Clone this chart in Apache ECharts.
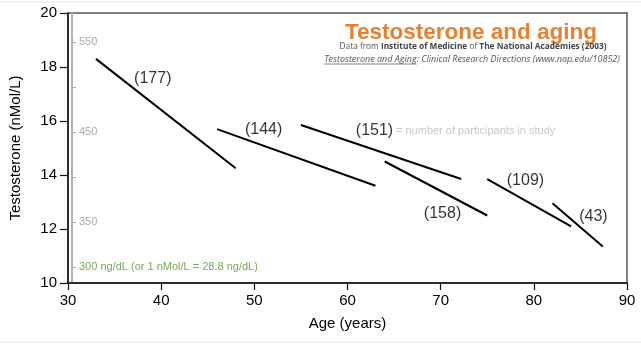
<!DOCTYPE html>
<html><head><meta charset="utf-8">
<script src="https://cdn.jsdelivr.net/npm/echarts@6/dist/echarts.min.js"></script>
<style>html,body{margin:0;padding:0;background:#fff}#c{width:641px;height:352px}</style>
</head><body><div id="c"></div>
<script>
// Age (years) and testosterone (nMol/L) at each segment's two ends
const segAgeStart = [33, 46, 55, 64, 75, 82];
const segTStart   = [18.3, 15.7, 15.85, 14.5, 13.85, 12.95];
const segAgeEnd   = [48, 63, 72.2, 75, 84, 87.4];
const segTEnd     = [14.25, 13.6, 13.85, 12.5, 12.1, 11.35];
// Participants per study and where its label sits
const counts   = [177, 144, 151, 158, 109, 43];
const labelAge = [39.1, 51.0, 62.9, 70.2, 79.1, 86.4];
const labelT   = [17.58, 15.69, 15.63, 12.58, 13.78, 12.46];
// Axis ticks
const xTicks = [30, 40, 50, 60, 70, 80, 90];
const yTicks = [10, 12, 14, 16, 18, 20];
const ngTicks = [300, 350, 400, 450, 500, 550];
const ngLabels = [300, 350, 450, 550];

const FONT = 'Liberation Sans, Arial, sans-serif';
const series = segAgeStart.map((a, i) => ({
  type: 'line', xAxisIndex: 0, yAxisIndex: 0, symbol: 'none', silent: true,
  lineStyle: { color: '#000', width: 2 },
  data: [[a, segTStart[i]], [segAgeEnd[i], segTEnd[i]]]
}));
series.push({
  type: 'scatter', symbolSize: 0, silent: true,
  data: counts.map((c, i) => [labelAge[i], labelT[i], c]),
  label: { show: true, position: 'inside', formatter: p => '(' + p.data[2] + ')',
    color: '#000', fontSize: 16, fontFamily: FONT }
});

// underline for the book title in the credit line
const line2 = 'Testosterone and Aging: Clinical Research Directions (www.nap.edu/10852)';
const line2Font = 'italic 9px "Open Sans", sans-serif';
const cv = document.createElement('canvas').getContext('2d');
cv.font = line2Font;
const fullW = cv.measureText(line2).width;
const bookW = cv.measureText('Testosterone and Aging').width;
const line2X = 472, line2Y = 59;
const ulStart = line2X - fullW / 2;

const chart = echarts.init(document.getElementById('c'));
chart.setOption({
  animation: false,
  backgroundColor: '#fff',
  grid: { left: 65, right: 14, top: 13, bottom: 69, show: true, borderColor: '#555', borderWidth: 1.5 },
  xAxis: {
    type: 'value', min: 30, max: 90, interval: 10,
    name: 'Age (years)', nameLocation: 'middle', nameGap: 33,
    nameTextStyle: { fontSize: 15, color: '#000', fontFamily: FONT },
    axisLine: { show: true, lineStyle: { color: '#111', width: 1.5 } },
    axisTick: { show: true, length: 7, lineStyle: { color: '#111', width: 1.2 } },
    axisLabel: { fontSize: 15, color: '#000', fontFamily: FONT, margin: 10,
      customValues: xTicks },
    splitLine: { show: false }
  },
  yAxis: [{
    type: 'value', min: 10, max: 20, interval: 2,
    name: 'Testosterone (nMol/L)', nameLocation: 'middle', nameGap: 45,
    nameTextStyle: { fontSize: 15, color: '#000', fontFamily: FONT },
    axisLine: { show: true, lineStyle: { color: '#111', width: 1.5 } },
    axisTick: { show: true, length: 8, lineStyle: { color: '#111', width: 1.2 } },
    axisLabel: { fontSize: 15, color: '#000', fontFamily: FONT, margin: 11, customValues: yTicks },
    splitLine: { show: false }
  }, {
    type: 'value', min: 282, max: 582, position: 'left', offset: -4,
    axisLine: { show: true, lineStyle: { color: '#b0b0b0', width: 2 } },
    axisTick: { show: true, inside: true, length: 4, customValues: ngTicks,
      lineStyle: { color: '#aaa', width: 1 } },
    axisLabel: { inside: true, margin: 7, customValues: ngLabels,
      fontSize: 11, color: '#aaa', fontFamily: FONT,
      formatter: v => v === 300 ? '{g|300 ng/dL (or 1 nMol/L = 28.8 ng/dL)}' : String(v),
      rich: { g: { color: '#76a957', fontSize: 11, fontFamily: FONT } } },
    splitLine: { show: false }
  }],
  graphic: [
    { type: 'line', shape: { x1: 0, y1: 2, x2: 641, y2: 2 }, style: { stroke: '#e6e6e6', lineWidth: 1 } },
    { type: 'line', shape: { x1: 0, y1: 342, x2: 641, y2: 342 }, style: { stroke: '#e6e6e6', lineWidth: 1 } },
    { type: 'text', x: 471, y: 33, style: { text: 'Testosterone and aging', fill: '#e8802f',
      font: 'bold 22.5px ' + FONT, align: 'center', verticalAlign: 'middle' } },
    { type: 'text', x: 473, y: 47, style: { rich: {
        n: { font: '8.3px "Open Sans", sans-serif', fill: '#555' },
        b: { font: 'bold 8.3px "Open Sans", sans-serif', fill: '#444' } },
      text: '{n|Data from }{b|Institute of Medicine}{n| of }{b|The National Academies (2003)}',
      align: 'center', verticalAlign: 'middle' } },
    { type: 'text', x: line2X, y: line2Y, style: { text: line2,
      font: line2Font, fill: '#555', align: 'center', verticalAlign: 'middle' } },
    { type: 'line', shape: { x1: ulStart, y1: line2Y + 5, x2: ulStart + bookW, y2: line2Y + 5 },
      style: { stroke: '#666', lineWidth: 0.8 } },
    { type: 'text', x: 396, y: 131, style: { text: '= number of participants in study', fill: '#c8c8c8',
      font: '11px ' + FONT, align: 'left', verticalAlign: 'middle' } }
  ],
  series: series
});
</script></body></html>
